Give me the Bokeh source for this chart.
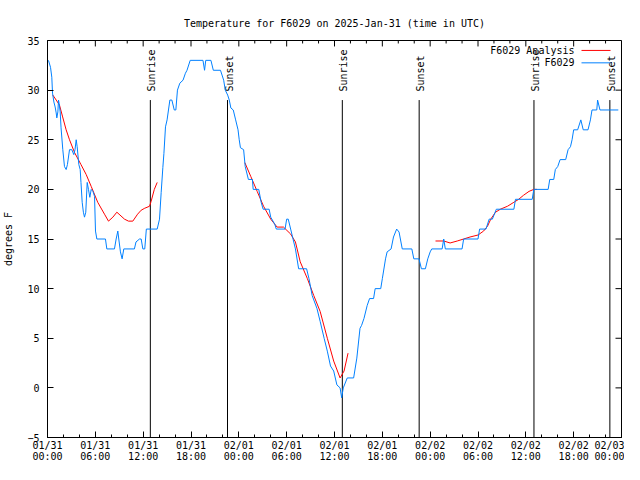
import math
from bokeh.plotting import figure
from bokeh.models import Range1d, FixedTicker, Label
from bokeh.core.properties import value
from bokeh.embed import file_html
from bokeh.resources import INLINE

TITLE = "Temperature for F6029 on 2025-Jan-31 (time in UTC)"
Y_LABEL = "degrees F"
ANALYSIS_NAME = "F6029 Analysis"
STATION_NAME = "F6029"

# x axis: hours since 2025-01-31 00:00 UTC
tick_hours = [0, 6, 12, 18, 24, 30, 36, 42, 48, 54, 60, 66, 72]
tick_labels = ["01/31\n00:00", "01/31\n06:00", "01/31\n12:00", "01/31\n18:00",
               "02/01\n00:00", "02/01\n06:00", "02/01\n12:00", "02/01\n18:00",
               "02/02\n00:00", "02/02\n06:00", "02/02\n12:00", "02/02\n18:00",
               "02/03\n00:00"]
minor_hours = list(range(0, 73, 2))
y_ticks = [-5, 0, 5, 10, 15, 20, 25, 30, 35]

# observed station temperature (blue)
obs_hours = [0.12, 0.38, 0.54, 0.63, 0.8, 0.96, 1.09, 1.17, 1.3, 1.38, 1.45, 1.59, 1.7, 1.92,
             2.13, 2.34, 2.5, 2.76, 3.05, 3.3, 3.45, 3.6, 3.72, 3.93, 4.1, 4.2, 4.35, 4.5,
             4.64, 4.8, 4.98, 5.14, 5.31, 5.48, 5.7, 5.9, 6.02, 6.19, 7.27, 7.44, 8.4, 8.61,
             8.82, 8.94, 9.15, 9.36, 9.57, 10.9, 11.1, 11.54, 11.75, 11.96, 12.2, 12.4, 13.76,
             14.05, 14.26, 14.47, 14.6, 14.8, 15.0, 15.35, 15.6, 15.9, 16.1, 16.3, 16.6, 17.0,
             17.3, 17.5, 17.9, 19.5, 19.7, 19.85, 20.5, 20.8, 21.7, 22.1, 22.3, 22.6, 22.8,
             23.0, 23.3, 23.6, 23.9, 24.05, 24.2, 24.6, 24.8, 25.2, 25.7, 25.8, 26.5, 26.8,
             27.05, 27.8, 28.0, 28.5, 28.7, 29.8, 30.0, 30.2, 30.5, 30.8, 31.1, 31.5, 32.5,
             32.8, 33.2, 33.8, 34.2, 34.7, 35.1, 35.5, 35.9, 36.3, 36.7, 36.9, 37.1, 37.6,
             38.4, 38.6, 38.8, 39.2, 39.4, 39.7, 40.1, 40.4, 40.9, 41.1, 41.8, 42.0, 42.4,
             42.6, 43.1, 43.4, 43.8, 44.1, 44.5, 45.7, 45.95, 46.6, 46.9, 47.4, 47.7, 48.0,
             48.2, 49.5, 49.7, 49.9, 52.0, 52.2, 54.0, 54.2, 55.0, 55.4, 55.8, 56.3, 58.5,
             58.7, 60.8, 61.0, 62.8, 63.0, 63.5, 63.7, 64.0, 64.3, 65.0, 65.3, 65.6, 65.8,
             66.0, 66.5, 66.9, 67.2, 67.8, 68.1, 68.3, 68.9, 69.0, 69.3, 71.6]
obs_temp = [33, 32.3, 31.3, 29.7, 28.8, 28.3, 27.7, 27.2, 27.8, 29, 28.7, 27.8, 26.2, 24,
            22.3, 22, 22.5, 24, 24, 23.5, 24, 25, 24.3, 22.5, 22, 20.7, 18.7, 17.7,
            17.2, 17.7, 20.7, 20, 19.2, 20, 19.8, 19.3, 15.8, 15, 15, 14, 14, 15,
            15.8, 15, 13.7, 13, 14, 14, 14.7, 15, 15, 14, 14, 16, 16,
            17, 19.7, 22.2, 23.6, 26.3, 27, 29, 29, 28, 28, 30, 30.7, 31,
            31.7, 32, 33, 33, 32, 33, 33, 32, 32, 31, 30, 29.5, 29,
            28.2, 28, 27, 26, 25, 24.2, 24, 22.3, 21, 21, 20, 20, 18.7,
            18, 18, 17.2, 16.5, 16, 16, 17, 17, 16, 15, 14, 12, 12,
            11, 9.3, 8, 6.7, 5, 3.7, 2.2, 1.7, 0.3, 0, -1, 0, 1,
            1, 2, 3, 6, 6.3, 7, 8.3, 9, 9, 10, 10, 11, 13,
            13.7, 14, 15.2, 16, 15.7, 14, 14, 13, 13, 12, 12, 13, 13.7,
            14, 14, 15, 14, 14, 15, 15, 16, 16, 17, 17, 18, 18,
            19, 19, 20, 20, 21, 21, 22, 22.3, 23, 23, 24, 24.3, 25,
            26, 26, 27, 26, 26, 27, 28, 28, 29, 28, 28]

# analysis (red), three separate runs separated by NaN
NAN = float("nan")
ana_hours = [0.67, 1.09, 1.5, 1.9, 2.34, 2.76, 3.4, 4.2, 4.85, 5.48, 6.3, 7.15, 7.65, 8.2,
             8.7, 9.66, 10.16, 10.7, 11.3, 11.75, 12.2, 12.8, 13.0, 13.4, 13.76,
             NAN,
             24.75, 25.5, 26.3, 27.1, 28.0, 28.8, 29.6, 30.5, 31.1, 31.7, 32.6, 33.4, 34.2,
             35.1, 35.9, 36.7, 37.2, 37.7,
             NAN,
             48.67, 49.7, 50.5, 51.4, 52.2, 53.0, 54.0, 54.7, 55.2, 55.6, 56.2, 56.8, 57.7,
             58.5, 59.1, 59.7, 60.4, 61.0, 61.4]
ana_temp = [29.5, 29, 28.5, 27.3, 26, 25, 23.7, 22.5, 21.5, 20.3, 18.7, 17.5, 16.8, 17.2,
            17.7, 17, 16.8, 16.8, 17.5, 17.9, 18.1, 18.3, 18.8, 20, 20.7,
            NAN,
            22.7, 21.3, 19.8, 18.3, 17, 16.2, 16.2, 15.5, 14.7, 12.7, 11, 9.3, 7.7,
            5, 2.7, 1, 1.7, 3.5,
            NAN,
            14.8, 14.8, 14.6, 14.8, 15, 15.2, 15.4, 15.8, 16.3, 17, 17.7, 18, 18.3,
            18.7, 19, 19.4, 19.8, 20, 20]

sunrise_hours = [12.9, 36.98, 61.02]
sunset_hours = [22.58, 46.62, 70.54]

X_MIN, X_MAX = 0, 72
Y_MIN, Y_MAX = -5, 35
MARK_TOP = Y_MIN + 0.85 * (Y_MAX - Y_MIN)

FONT_NAME = "DejaVu Sans Mono"
FONT = value(FONT_NAME)
FS = "10px"
RED = "#ff0000"
BLUE = "#0080ff"

W, H = 624, 464
BL, BR, BT, BB = 47, 3, 40, 24
FW, FH = W - BL - BR, H - BT - BB
H_PER_PX = (X_MAX - X_MIN) / FW
D_PER_PX = (Y_MAX - Y_MIN) / FH

p = figure(width=W, height=H,
           x_range=Range1d(X_MIN, X_MAX), y_range=Range1d(Y_MIN, Y_MAX),
           output_backend="svg", toolbar_location=None, title=TITLE,
           min_border_left=BL, min_border_right=BR, min_border_top=BT, min_border_bottom=BB)
p.background_fill_color = "white"
p.border_fill_color = "white"
p.outline_line_color = "black"
p.grid.visible = False

p.title.text_font = FONT_NAME
p.title.text_font_size = FS
p.title.text_font_style = "normal"
p.title.text_color = "black"
p.title.align = "center"
p.title.standoff = 24

xticker = FixedTicker(ticks=tick_hours, minor_ticks=minor_hours)
yticker = FixedTicker(ticks=y_ticks, minor_ticks=[])

def style_axis(ax, ticker):
    ax.ticker = ticker
    ax.axis_line_color = "black"
    ax.major_tick_line_color = "black"
    ax.minor_tick_line_color = "black"
    ax.major_tick_in = 6
    ax.major_tick_out = 0
    ax.minor_tick_in = 3
    ax.minor_tick_out = 0
    ax.major_label_text_font = FONT_NAME
    ax.major_label_text_font_size = FS
    ax.major_label_text_color = "black"

xa = p.xaxis[0]
style_axis(xa, xticker)
xa.major_label_overrides = {h: t for h, t in zip(tick_hours, tick_labels)}
xa.major_label_text_line_height = 1.0
xa.major_label_standoff = 2

ya = p.yaxis[0]
style_axis(ya, yticker)
ya.major_label_standoff = 8
ya.axis_label = Y_LABEL
ya.axis_label_text_font = FONT_NAME
ya.axis_label_text_font_size = FS
ya.axis_label_text_font_style = "normal"
ya.axis_label_text_color = "black"
ya.axis_label_standoff = 10

# mirrored tick marks on the top and right borders
minor_only = [m for m in minor_hours if m not in tick_hours]
p.segment(x0=tick_hours, y0=[Y_MAX] * len(tick_hours), x1=tick_hours,
          y1=[Y_MAX - 6 * D_PER_PX] * len(tick_hours), line_color="black", line_width=1)
p.segment(x0=minor_only, y0=[Y_MAX] * len(minor_only), x1=minor_only,
          y1=[Y_MAX - 3 * D_PER_PX] * len(minor_only), line_color="black", line_width=1)
p.segment(x0=[X_MAX] * len(y_ticks), y0=y_ticks, x1=[X_MAX - 6 * H_PER_PX] * len(y_ticks),
          y1=y_ticks, line_color="black", line_width=1)

# sunrise / sunset markers
p.segment(x0=sunrise_hours, y0=[Y_MIN] * len(sunrise_hours), x1=sunrise_hours,
          y1=[MARK_TOP] * len(sunrise_hours), line_color="black", line_width=1)
p.segment(x0=sunset_hours, y0=[Y_MIN] * len(sunset_hours), x1=sunset_hours,
          y1=[MARK_TOP] * len(sunset_hours), line_color="black", line_width=1)
p.text(x=sunrise_hours, y=[MARK_TOP] * len(sunrise_hours), text=["Sunrise"] * len(sunrise_hours),
       angle=math.pi / 2, text_align="left", text_baseline="middle", x_offset=1.5, y_offset=-8.5,
       text_font=FONT, text_font_size=FS, text_color="black")
p.text(x=sunset_hours, y=[MARK_TOP] * len(sunset_hours), text=["Sunset"] * len(sunset_hours),
       angle=math.pi / 2, text_align="left", text_baseline="middle", x_offset=1.5, y_offset=-8.5,
       text_font=FONT, text_font_size=FS, text_color="black")

r_ana = p.line(ana_hours, ana_temp, line_color=RED, line_width=1)
r_obs = p.line(obs_hours, obs_temp, line_color=BLUE, line_width=1)

# key (gnuplot style: name on the left, line sample on the right)
KEY_TEXT_RIGHT_PX = 527     # from frame left
KEY_SAMPLE_PX = (534, 563)  # from frame left
KEY_ROWS_PX = [10, 22.5]    # from frame top
for name, color, row in zip([ANALYSIS_NAME, STATION_NAME], [RED, BLUE], KEY_ROWS_PX):
    yk = Y_MAX - row * D_PER_PX
    p.add_layout(Label(x=X_MIN + KEY_TEXT_RIGHT_PX * H_PER_PX, y=yk, text=name,
                       text_font=FONT_NAME, text_font_size=FS, text_color="black",
                       text_align="right", text_baseline="middle"))
    p.segment(x0=[X_MIN + KEY_SAMPLE_PX[0] * H_PER_PX], y0=[yk],
              x1=[X_MIN + KEY_SAMPLE_PX[1] * H_PER_PX], y1=[yk],
              line_color=color, line_width=1)

open("out.html", "w").write(file_html(p, INLINE))
